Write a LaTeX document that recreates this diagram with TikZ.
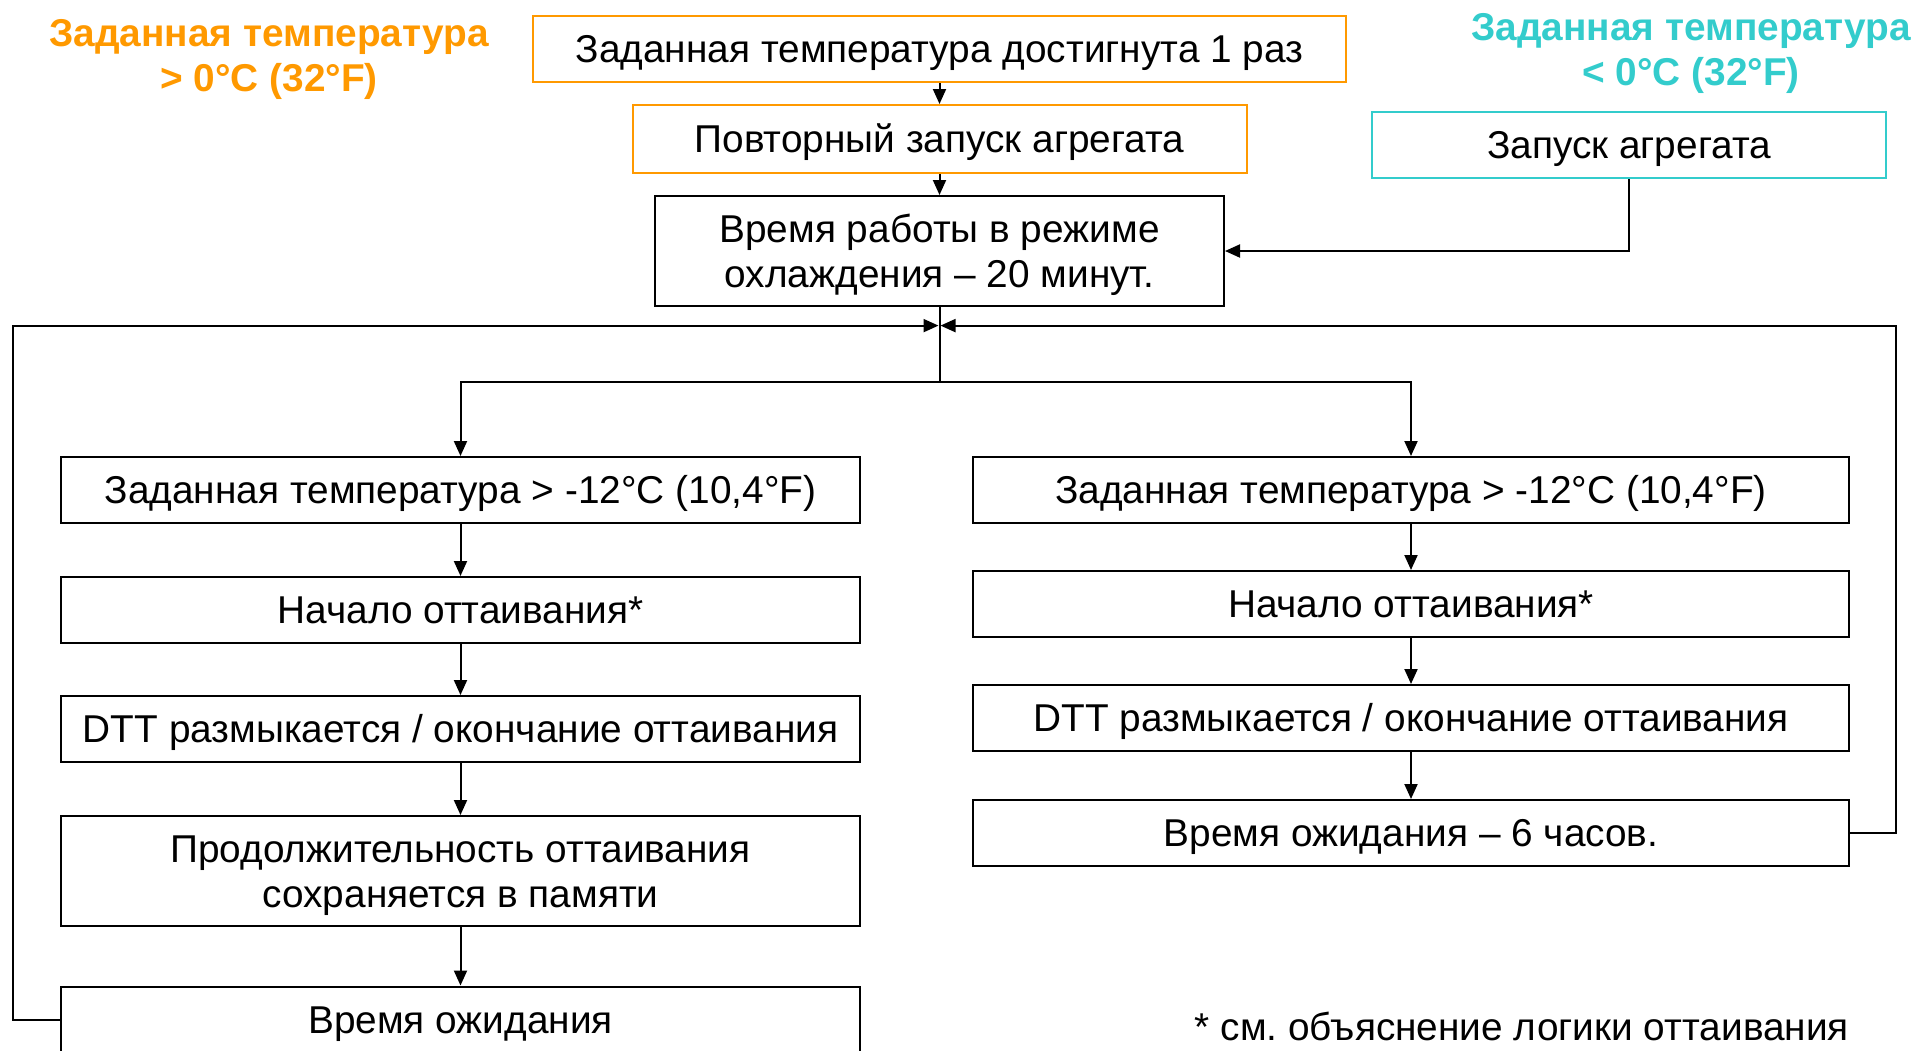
\documentclass[tikz,border=0pt]{standalone}
\usepackage{fontspec}
\setmainfont{Liberation Sans}
\usetikzlibrary{arrows.meta}
\definecolor{orng}{HTML}{FF9900}
\definecolor{cyn}{HTML}{33CCCC}
\newcommand\mystrut{\rule[-0.21em]{0pt}{1.14em}}
\frenchspacing
\begin{document}
\begin{tikzpicture}[x=1pt,y=-1pt,
  font=\fontsize{38.8}{45}\selectfont,
  box/.style={draw, line width=2pt, inner sep=0pt, align=center},
  arr/.style={line width=2pt, -{Triangle[length=15pt,width=13pt]}},
  ln/.style={line width=2pt},
  ttl/.style={font=\fontsize{38.8}{45}\selectfont\bfseries, align=center, inner sep=0pt}]
\useasboundingbox (0,0) rectangle (1912,1050);
% titles
\node[ttl, text=orng] (T1) at (269,55) {\mystrut Заданная температура\\\mystrut > 0°C (32°F)};
\node[ttl, text=cyn] (T2) at (1691,49.5) {\mystrut Заданная температура\\\mystrut < 0°C (32°F)};
% top boxes
\node[box, draw=orng, minimum width=813, minimum height=66] (A) at (939.5,49) {\mystrut Заданная температура достигнута 1 раз};
\node[box, draw=orng, minimum width=614, minimum height=68] (B) at (939.5,139) {\mystrut Повторный запуск агрегата};
\node[box, minimum width=569, minimum height=110] (C) at (939.5,251) {\mystrut Время работы в режиме\\\mystrut охлаждения – 20 минут.};
\node[box, draw=cyn, minimum width=514, minimum height=66] (D) at (1629,145) {\mystrut Запуск агрегата};
% left column
\node[box, minimum width=799, minimum height=66] (L1) at (460.5,490) {\mystrut Заданная температура > -12°C (10,4°F)};
\node[box, minimum width=799, minimum height=66] (L2) at (460.5,610) {\mystrut Начало оттаивания*};
\node[box, minimum width=799, minimum height=66] (L3) at (460.5,729) {\mystrut DTT размыкается / окончание оттаивания};
\node[box, minimum width=799, minimum height=110] (L4) at (460.5,871) {\mystrut Продолжительность оттаивания\\\mystrut сохраняется в памяти};
\node[box, minimum width=799, minimum height=66] (L5) at (460.5,1019.5) {\mystrut Время ожидания};
% right column
\node[box, minimum width=876, minimum height=66] (R1) at (1411,490) {\mystrut Заданная температура > -12°C (10,4°F)};
\node[box, minimum width=876, minimum height=66] (R2) at (1411,604) {\mystrut Начало оттаивания*};
\node[box, minimum width=876, minimum height=66] (R3) at (1411,718) {\mystrut DTT размыкается / окончание оттаивания};
\node[box, minimum width=876, minimum height=66] (R4) at (1411,833) {\mystrut Время ожидания – 6 часов.};
% footnote
\node[anchor=east, inner sep=0pt] (N) at (1849,1027) {\mystrut * см. объяснение логики оттаивания};
% coordinates
\coordinate (Br) at (939.5,382);
\coordinate (JL) at (938.5,325.6);
\coordinate (JR) at (940.5,325.6);
\coordinate (LL) at (13,1019.5);
\coordinate (RR) at (1896,833);
% connectors
\draw[arr] (A.south) -- (B.north);
\draw[arr] (B.south) -- (C.north);
\draw[arr] (D.south) |- (C.east);
\draw[ln] (C.south) -- (Br);
\draw[arr] (Br) -| (L1.north);
\draw[arr] (Br) -| (R1.north);
\draw[arr] (L1.south) -- (L2.north);
\draw[arr] (L2.south) -- (L3.north);
\draw[arr] (L3.south) -- (L4.north);
\draw[arr] (L4.south) -- (L5.north);
\draw[arr] (R1.south) -- (R2.north);
\draw[arr] (R2.south) -- (R3.north);
\draw[arr] (R3.south) -- (R4.north);
\draw[arr] (L5.west) -- (LL) |- (JL);
\draw[arr] (R4.east) -- (RR) |- (JR);
\end{tikzpicture}
\end{document}
